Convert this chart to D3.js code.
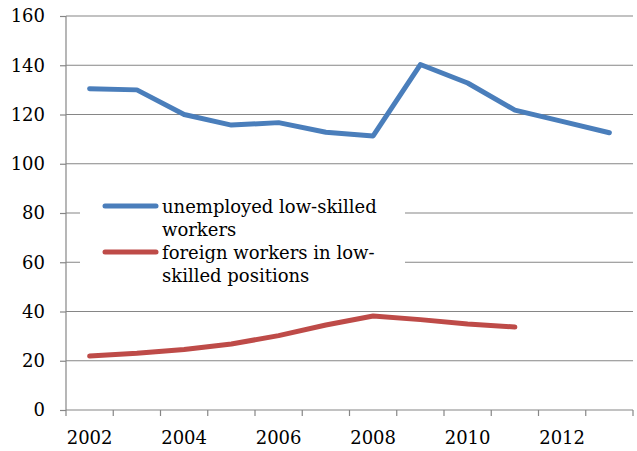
<!DOCTYPE html>
<html>
<head>
<meta charset="utf-8">
<style>
body { margin: 0; background: #fff; }
svg { display: block; }
.tick text { font-family: "DejaVu Serif", serif; font-size: 18px; fill: #000; }
.legend text { font-family: "DejaVu Serif", serif; font-size: 18px; fill: #000; }
</style>
</head>
<body>
<svg width="637" height="451"></svg>
<script src="https://cdn.jsdelivr.net/npm/d3@7"></script>
<script>
// data
var years = [2002, 2003, 2004, 2005, 2006, 2007, 2008, 2009, 2010, 2011, 2012, 2013];
var unemployed = [130.5, 130, 120, 115.7, 116.7, 112.8, 111.3, 140.3, 132.8, 121.8, 117.2, 112.6];
var foreign = [21.9, 23, 24.6, 26.8, 30.2, 34.5, 38.2, 36.7, 34.9, 33.7];
var yTicks = [0, 20, 40, 60, 80, 100, 120, 140, 160];
var xLabels = [2002, 2004, 2006, 2008, 2010, 2012];
var seriesNames = [["unemployed low-skilled", "workers"], ["foreign workers in low-", "skilled positions"]];

var svg = d3.select("svg");
var plotLeft = 66, plotRight = 633, plotTop = 16, plotBottom = 410;
var grey = "#868686";

var x = d3.scaleBand().domain(years).range([plotLeft, plotRight]);
var y = d3.scaleLinear().domain([0, 160]).range([plotBottom, plotTop]);
var cx = function(yr) { return x(yr) + x.bandwidth() / 2; };

// gridlines
svg.append("g").selectAll("line")
    .data(yTicks.filter(function(t) { return t > 0; }))
    .enter().append("line")
      .attr("x1", plotLeft).attr("x2", plotRight)
      .attr("y1", function(d) { return y(d); }).attr("y2", function(d) { return y(d); })
      .attr("stroke", grey).attr("stroke-width", 1.2);

// y axis
var yAxis = svg.append("g")
    .attr("transform", "translate(" + plotLeft + ",0)")
    .call(d3.axisLeft(y).tickValues(yTicks).tickSize(6).tickPadding(15));
yAxis.selectAll("line, path").attr("stroke", grey).attr("stroke-width", 1.2);
yAxis.select(".domain").attr("d", "M0," + plotTop + "V" + plotBottom);

// x axis: ticks at category boundaries, labels every other year
var xg = svg.append("g").attr("transform", "translate(0," + plotBottom + ")");
xg.append("line").attr("x1", plotLeft).attr("x2", plotRight).attr("stroke", grey).attr("stroke-width", 1.2);
xg.selectAll(".tk").data(d3.range(years.length + 1)).enter().append("line")
    .attr("class", "tk")
    .attr("x1", function(i) { return plotLeft + i * x.step(); })
    .attr("x2", function(i) { return plotLeft + i * x.step(); })
    .attr("y1", 0).attr("y2", 6)
    .attr("stroke", grey).attr("stroke-width", 1.2);
xg.selectAll(".lb").data(xLabels).enter().append("text")
    .attr("class", "lb")
    .attr("x", cx).attr("y", 34)
    .attr("text-anchor", "middle")
    .style("font-family", "DejaVu Serif, serif").style("font-size", "18px")
    .text(function(d) { return d; });

// legend box (white, covers the gridlines behind it)
var legend = svg.append("g").attr("class", "legend");
legend.append("rect").attr("x", 80).attr("y", 186).attr("width", 325).attr("height", 104).attr("fill", "#fff");

var colors = ["#4a7ebb", "#be4b48"];

// lines
var line = d3.line().x(function(d, i) { return cx(years[i]); }).y(function(d) { return y(d); });
[unemployed, foreign].forEach(function(series, i) {
  svg.append("path").datum(series)
      .attr("d", line)
      .attr("fill", "none").attr("stroke", colors[i]).attr("stroke-width", 5)
      .attr("stroke-linecap", "round").attr("stroke-linejoin", "round");
});

var legendY = [206, 252];
seriesNames.forEach(function(lines, i) {
  legend.append("line")
      .attr("x1", 105).attr("x2", 156)
      .attr("y1", legendY[i]).attr("y2", legendY[i])
      .attr("stroke", colors[i]).attr("stroke-width", 5).attr("stroke-linecap", "round");
  var t = legend.append("text").attr("x", 162).attr("y", legendY[i] + 7);
  lines.forEach(function(s, j) {
    t.append("tspan").attr("x", 162).attr("dy", j === 0 ? 0 : 23).text(s);
  });
});
</script>
</body>
</html>
